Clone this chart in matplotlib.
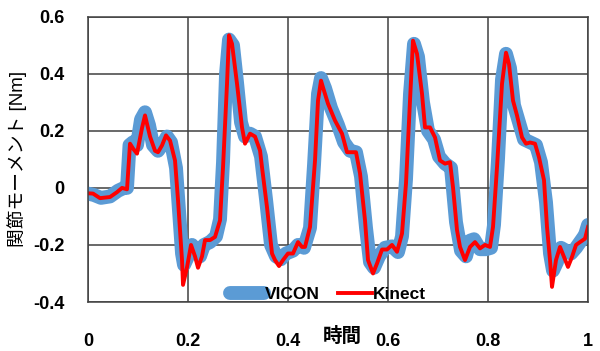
import matplotlib
matplotlib.use("Agg")
import matplotlib.pyplot as plt

plt.rcParams['font.family'] = ['Liberation Sans', 'Noto Sans CJK JP', 'DejaVu Sans']

# Kinect (red) trace
kinect_t = [0.000, 0.010, 0.024, 0.044, 0.058, 0.068, 0.078, 0.084, 0.090, 0.098,
            0.108, 0.114, 0.124, 0.134, 0.140, 0.148, 0.156, 0.164, 0.174, 0.180,
            0.188, 0.190, 0.198, 0.206, 0.214, 0.220, 0.228, 0.234, 0.244, 0.254,
            0.264, 0.270, 0.278, 0.282, 0.288, 0.298, 0.308, 0.314, 0.324, 0.334,
            0.344, 0.348, 0.358, 0.368, 0.374, 0.382, 0.390, 0.400, 0.410, 0.420,
            0.428, 0.434, 0.444, 0.454, 0.460, 0.466, 0.470, 0.480, 0.494, 0.508,
            0.518, 0.528, 0.536, 0.544, 0.554, 0.560, 0.570, 0.578, 0.588, 0.598,
            0.608, 0.618, 0.628, 0.636, 0.644, 0.650, 0.658, 0.668, 0.674, 0.684,
            0.694, 0.704, 0.714, 0.724, 0.730, 0.738, 0.744, 0.754, 0.764, 0.774,
            0.784, 0.794, 0.804, 0.810, 0.818, 0.828, 0.836, 0.842, 0.850, 0.858,
            0.868, 0.876, 0.884, 0.894, 0.902, 0.912, 0.918, 0.924, 0.928, 0.936,
            0.944, 0.952, 0.960, 0.968, 0.976, 0.984, 0.994, 1.000]
kinect_v = [-0.019, -0.020, -0.036, -0.032, -0.015, 0.000, -0.005, 0.155, 0.138, 0.120,
            0.210, 0.254, 0.180, 0.130, 0.125, 0.149, 0.184, 0.166, 0.096, -0.043,
            -0.253, -0.340, -0.278, -0.200, -0.240, -0.280, -0.240, -0.183, -0.183, -0.172,
            -0.114, 0.072, 0.365, 0.535, 0.505, 0.365, 0.212, 0.155, 0.190, 0.180,
            0.131, 0.072, -0.068, -0.230, -0.253, -0.274, -0.253, -0.230, -0.230, -0.190,
            -0.207, -0.207, -0.137, 0.096, 0.306, 0.376, 0.352, 0.295, 0.236, 0.190,
            0.125, 0.125, 0.125, 0.051, -0.114, -0.253, -0.300, -0.265, -0.216, -0.216,
            -0.200, -0.224, -0.160, 0.016, 0.306, 0.516, 0.470, 0.330, 0.212, 0.212,
            0.177, 0.096, 0.085, 0.090, 0.002, -0.148, -0.207, -0.253, -0.207, -0.190,
            -0.212, -0.200, -0.207, -0.137, 0.072, 0.365, 0.474, 0.434, 0.306, 0.254,
            0.177, 0.155, 0.159, 0.155, 0.107, 0.027, -0.137, -0.253, -0.347, -0.253,
            -0.207, -0.242, -0.277, -0.242, -0.200, -0.190, -0.178, -0.137]

# VICON (blue) trace
vicon_t = [0.000, 0.012, 0.026, 0.044, 0.060, 0.072, 0.078, 0.083, 0.090, 0.098,
           0.106, 0.114, 0.122, 0.130, 0.140, 0.150, 0.158, 0.166, 0.176, 0.182,
           0.188, 0.192, 0.200, 0.208, 0.216, 0.224, 0.232, 0.244, 0.256, 0.264,
           0.270, 0.276, 0.282, 0.290, 0.298, 0.306, 0.314, 0.324, 0.334, 0.346,
           0.356, 0.366, 0.376, 0.386, 0.396, 0.410, 0.420, 0.432, 0.444, 0.452,
           0.460, 0.466, 0.474, 0.486, 0.500, 0.512, 0.524, 0.536, 0.546, 0.556,
           0.564, 0.572, 0.582, 0.594, 0.608, 0.620, 0.628, 0.636, 0.644, 0.652,
           0.660, 0.670, 0.680, 0.692, 0.702, 0.714, 0.726, 0.736, 0.746, 0.756,
           0.764, 0.772, 0.784, 0.796, 0.806, 0.812, 0.820, 0.828, 0.836, 0.844,
           0.852, 0.862, 0.872, 0.884, 0.896, 0.906, 0.916, 0.924, 0.930, 0.938,
           0.946, 0.956, 0.966, 0.976, 0.988, 0.994, 1.000]
vicon_v = [-0.020, -0.025, -0.035, -0.030, -0.010, 0.000, 0.000, 0.150, 0.160, 0.150,
           0.240, 0.265, 0.220, 0.150, 0.130, 0.155, 0.180, 0.160, 0.070, -0.080,
           -0.230, -0.270, -0.240, -0.200, -0.220, -0.240, -0.200, -0.190, -0.170, -0.110,
           0.090, 0.400, 0.520, 0.500, 0.370, 0.230, 0.180, 0.190, 0.180, 0.110,
           -0.040, -0.200, -0.240, -0.250, -0.230, -0.220, -0.200, -0.210, -0.140, 0.080,
           0.330, 0.385, 0.350, 0.280, 0.220, 0.160, 0.130, 0.125, 0.040, -0.140,
           -0.260, -0.280, -0.240, -0.210, -0.205, -0.225, -0.170, 0.030, 0.330, 0.505,
           0.460, 0.300, 0.200, 0.170, 0.110, 0.085, 0.070, -0.120, -0.220, -0.240,
           -0.185, -0.180, -0.215, -0.215, -0.210, -0.130, 0.100, 0.380, 0.470, 0.420,
           0.290, 0.230, 0.170, 0.160, 0.150, 0.090, -0.050, -0.230, -0.290, -0.260,
           -0.210, -0.220, -0.230, -0.210, -0.180, -0.165, -0.130]

x_ticks = [0, 0.2, 0.4, 0.6, 0.8, 1]
x_labels = ['0', '0.2', '0.4', '0.6', '0.8', '1']
y_ticks = [-0.4, -0.2, 0, 0.2, 0.4, 0.6]
y_labels = ['-0.4', '-0.2', '0', '0.2', '0.4', '0.6']

fig = plt.figure(figsize=(6, 3.51), dpi=100)
ax = fig.add_axes([0.1467, 0.1396, 0.8333, 0.8128])

ax.plot(vicon_t, vicon_v, color='#5B9BD5', lw=10, solid_capstyle='round',
        solid_joinstyle='round', label='VICON')
ax.plot(kinect_t, kinect_v, color='#FF0000', lw=2.8, solid_joinstyle='round',
        label='Kinect')

ax.set_xlim(0, 1)
ax.set_ylim(-0.4, 0.6)
ax.set_xticks(x_ticks)
ax.set_xticklabels(x_labels, fontsize=13, fontweight='bold')
ax.set_yticks(y_ticks)
ax.set_yticklabels(y_labels, fontsize=13, fontweight='bold')
ax.tick_params(axis='x', length=0, pad=22)
ax.tick_params(axis='y', length=0, pad=17)
ax.grid(True, color='#404040', lw=1.1)
ax.set_axisbelow(True)
for s in ax.spines.values():
    s.set_color('#404040')
    s.set_linewidth(1.1)

ax.set_ylabel('関節モーメント [Nm]', fontsize=13.5, labelpad=4)
fig.text(0.57, 0.04, '時間', fontsize=14, fontweight='bold', ha='center', va='center')

leg = ax.legend(loc='lower center', bbox_to_anchor=(0.48, -0.055), ncol=2, frameon=False,
                prop={'weight': 'bold', 'size': 12.5}, handlelength=2.0,
                handletextpad=0.05, columnspacing=1.0)

fig.savefig('out.png', dpi=100)
